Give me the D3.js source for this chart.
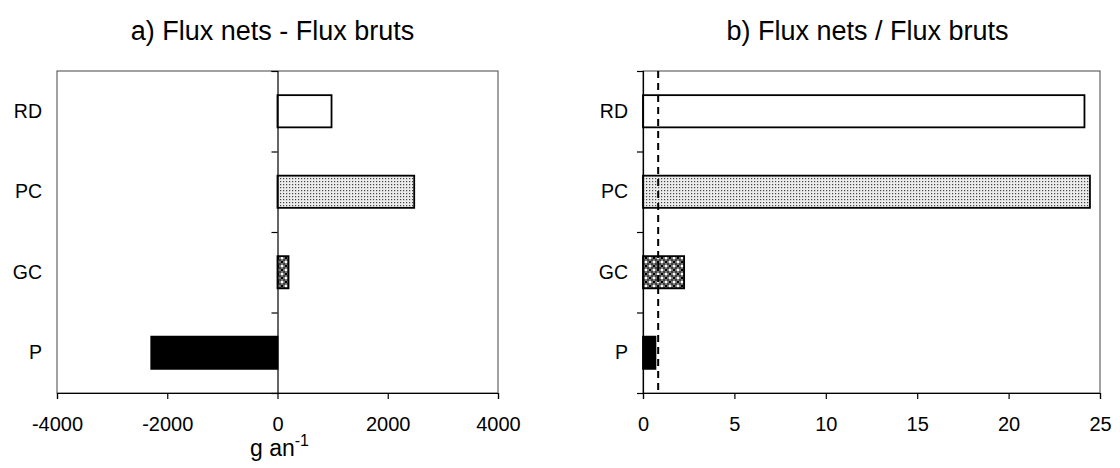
<!DOCTYPE html>
<html>
<head>
<meta charset="utf-8">
<script src="https://cdn.jsdelivr.net/npm/d3@7"></script>
<style>
  body { margin: 0; background: #fff; }
  svg { display: block; font-family: "Liberation Sans", Arial, sans-serif; }
</style>
</head>
<body>
<svg id="chart" width="1120" height="468"></svg>
<script>
// ---- data ----
const categories = ["RD", "PC", "GC", "P"];
const diffValues = [980, 2480, 200, -2290];       // a) Flux nets - Flux bruts (g an-1)
const ratioValues = [24.15, 24.45, 2.25, 0.68];   // b) Flux nets / Flux bruts
const diffTicks = [-4000, -2000, 0, 2000, 4000];
const ratioTicks = [0, 5, 10, 15, 20, 25];
const ratioRef = 0.83;
const fills = ["#ffffff", "url(#dots)", "url(#checker)", "#000000"];
const titleA = "a) Flux nets - Flux bruts";
const titleB = "b) Flux nets / Flux bruts";

const svg = d3.select("#chart");
const defs = svg.append("defs");

// fine dot pattern
const pDots = defs.append("pattern").attr("id", "dots")
  .attr("patternUnits", "userSpaceOnUse").attr("width", 3).attr("height", 3);
pDots.append("rect").attr("width", 3).attr("height", 3).attr("fill", "#ececec");
pDots.append("rect").attr("x", 1).attr("y", 1).attr("width", 1.2).attr("height", 1.2).attr("fill", "#444");

// checker / balls pattern
const pCh = defs.append("pattern").attr("id", "checker")
  .attr("patternUnits", "userSpaceOnUse").attr("width", 8).attr("height", 8);
pCh.append("rect").attr("width", 8).attr("height", 8).attr("fill", "#000");
pCh.append("rect").attr("x", 0.5).attr("y", 0.5).attr("width", 3).attr("height", 3).attr("fill", "#fff");
pCh.append("rect").attr("x", 4.5).attr("y", 4.5).attr("width", 3).attr("height", 3).attr("fill", "#fff");
pCh.append("circle").attr("cx", 6).attr("cy", 2).attr("r", 1.8).attr("fill", "#000").attr("stroke", "#fff").attr("stroke-width", 0.5);
pCh.append("circle").attr("cx", 2).attr("cy", 6).attr("r", 1.8).attr("fill", "#000").attr("stroke", "#fff").attr("stroke-width", 0.5);

const plotTop = 71, plotBottom = 393;

function panel(opts) {
  const g = svg.append("g");
  const x = d3.scaleLinear().domain(opts.domain).range([opts.left, opts.right]);
  const y = d3.scaleBand().domain(categories).range([plotTop, plotBottom])
    .paddingInner(0.6).paddingOuter(0.3);
  const yb = d3.scaleLinear().domain([0, categories.length]).range([plotBottom, plotTop]);

  // frame
  g.append("rect").attr("x", opts.left).attr("y", plotTop)
    .attr("width", opts.right - opts.left).attr("height", plotBottom - plotTop)
    .attr("fill", "none").attr("stroke", "#444").attr("stroke-width", 1);

  // x axis
  const xa = g.append("g").attr("transform", `translate(0,${plotBottom})`)
    .call(d3.axisBottom(x).tickValues(opts.ticks).tickSize(6).tickPadding(18).tickFormat(d3.format("d")));
  xa.select(".domain").attr("stroke", "#000").attr("stroke-width", 1.2);
  xa.selectAll(".tick line").attr("stroke", "#000").attr("stroke-width", 1.2);
  xa.selectAll("text").attr("font-size", 20).attr("fill", "#000")
    .attr("font-family", "Liberation Sans, Arial, sans-serif")
    .text(d => d < 0 ? "-" + Math.abs(d) : d);

  // bars
  g.selectAll("rect.bar").data(opts.values).join("rect").attr("class", "bar")
    .attr("x", d => Math.min(x(0), x(d)))
    .attr("y", (d, i) => y(categories[i]))
    .attr("width", d => Math.abs(x(d) - x(0)))
    .attr("height", y.bandwidth())
    .attr("fill", (d, i) => fills[i])
    .attr("stroke", "#000").attr("stroke-width", 1.8);

  // reference line
  if (opts.ref !== undefined) {
    g.append("line").attr("x1", x(opts.ref)).attr("x2", x(opts.ref))
      .attr("y1", plotTop).attr("y2", plotBottom)
      .attr("stroke", "#000").attr("stroke-width", 2).attr("stroke-dasharray", "7,5");
  }

  // y axis ticks at band boundaries
  const ya = g.append("g").attr("transform", `translate(${x(0)},0)`)
    .call(d3.axisLeft(yb).tickValues(d3.range(0, categories.length + 1)).tickSize(6).tickFormat(""));
  ya.select(".domain").attr("stroke", "#000").attr("stroke-width", 1.2);
  ya.selectAll(".tick line").attr("stroke", "#000").attr("stroke-width", 1.2);

  // category labels
  g.selectAll("text.cat").data(categories).join("text").attr("class", "cat")
    .attr("x", opts.labelX).attr("y", d => y(d) + y.bandwidth() / 2)
    .attr("dy", "0.34em").attr("text-anchor", "end")
    .attr("font-size", 19.5).attr("fill", "#000").text(d => d);

  // title
  g.append("text").attr("x", (opts.left + opts.right) / 2 + opts.titleDx).attr("y", 40)
    .attr("text-anchor", "middle").attr("font-size", 27).attr("fill", "#000").text(opts.title);
  return x;
}

const xA = panel({ domain: [-4000, 4000], left: 57, right: 498, values: diffValues,
  ticks: diffTicks, labelX: 42, title: titleA, titleDx: -5 });
const xB = panel({ domain: [0, 25], left: 643, right: 1100, values: ratioValues,
  ticks: ratioTicks, labelX: 628, title: titleB, titleDx: -4, ref: ratioRef });

// x axis label for panel a
const lab = svg.append("text").attr("x", xA(0) + 2).attr("y", 456)
  .attr("text-anchor", "middle").attr("font-size", 23).attr("fill", "#000");
lab.append("tspan").text("g an");
lab.append("tspan").attr("dy", -10).attr("font-size", 16).text("-1");
</script>
</body>
</html>
